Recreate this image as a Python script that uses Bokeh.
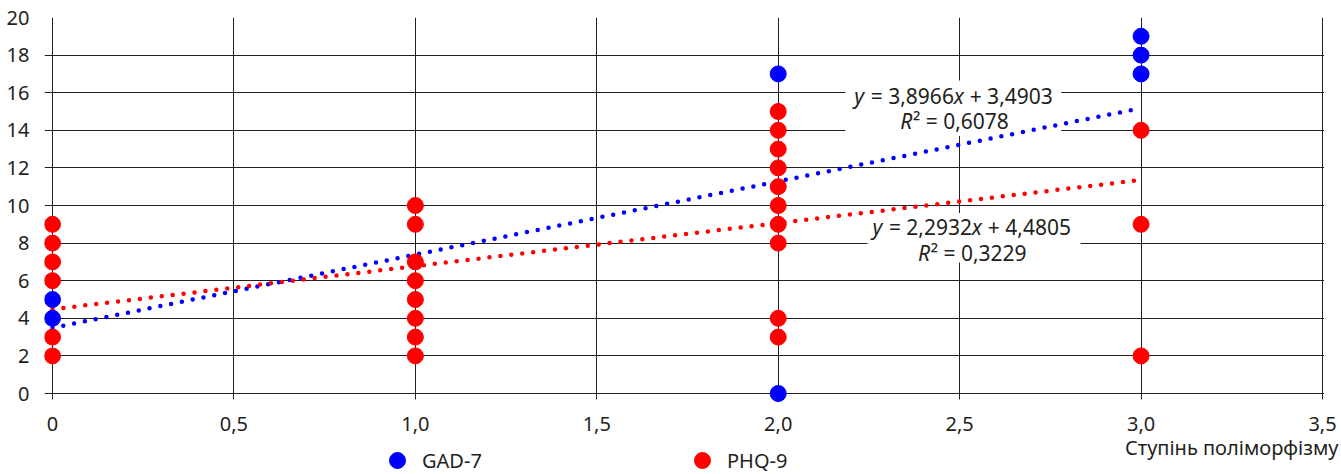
from bokeh.plotting import figure
from bokeh.models import (Range1d, FixedTicker, Label, BoxAnnotation, Legend, LegendItem)
from bokeh.core.properties import value
from bokeh.embed import file_html
from bokeh.resources import INLINE

# ---- data ----
gad_x = [0, 0, 2, 2, 3, 3, 3]
gad_y = [4, 5, 17, 0, 17, 18, 19]
phq_x = [0, 0, 0, 0, 0, 0,
         1, 1, 1, 1, 1, 1, 1, 1,
         2, 2, 2, 2, 2, 2, 2, 2, 2, 2,
         3, 3, 3]
phq_y = [2, 3, 6, 7, 8, 9,
         2, 3, 4, 5, 6, 7, 9, 10,
         15, 14, 13, 12, 11, 10, 9, 8, 4, 3,
         14, 9, 2]
gad_trend = (3.8966, 3.4903)   # slope, intercept
phq_trend = (2.2932, 4.4805)
gad_r2 = "0,6078"
phq_r2 = "0,3229"
trend_x = [0, 3]
x_ticks = [0, 0.5, 1, 1.5, 2, 2.5, 3, 3.5]
x_tick_labels = ["0", "0,5", "1,0", "1,5", "2,0", "2,5", "3,0", "3,5"]
y_ticks = list(range(0, 21, 2))
x_title = "Ступінь поліморфізму"

FONT = "Noto Sans"
TXT = "#231f20"
GRID = "#231f20"

W, H = 1341, 474
XS, YS = 362.857, 18.8            # px per unit
x0 = -8 / XS
x1 = x0 + (W - 44) / XS
y0 = -(H - 393) / YS

p = figure(width=W, height=H, output_backend="svg", toolbar_location=None,
           x_range=Range1d(x0, x1), y_range=Range1d(y0, 20),
           min_border_left=44, min_border_right=0, min_border_top=17, min_border_bottom=0)
p.outline_line_color = None
p.background_fill_color = "white"
p.xaxis.visible = False

ya = p.yaxis[0]
ya.ticker = FixedTicker(ticks=y_ticks)
ya.axis_line_color = None
ya.major_tick_line_color = None
ya.minor_tick_line_color = None
ya.major_label_standoff = 9
ya.major_label_text_font = FONT
ya.major_label_text_font_size = "20px"
ya.major_label_text_color = TXT

p.xgrid.ticker = FixedTicker(ticks=x_ticks)
p.ygrid.ticker = FixedTicker(ticks=y_ticks)
for g in (p.xgrid[0], p.ygrid[0]):
    g.grid_line_color = GRID
    g.grid_line_width = 1

# white areas hiding the grid outside the plotting area (ticks remain as 6px stubs)
p.add_layout(BoxAnnotation(left=x0, right=x1, top=-6 / YS, bottom=y0,
                           fill_color="white", fill_alpha=1, line_color=None, level="underlay"))
p.add_layout(BoxAnnotation(left=3.5 + 1.5 / XS, right=x1, top=20, bottom=y0,
                           fill_color="white", fill_alpha=1, line_color=None, level="underlay"))
# white boxes behind equation labels (hide grid only)
p.add_layout(BoxAnnotation(left=2.185, right=2.78, top=16.65, bottom=13.7,
                           fill_color="white", fill_alpha=1, line_color=None, level="underlay"))
p.add_layout(BoxAnnotation(left=2.246, right=2.833, top=9.6, bottom=6.97,
                           fill_color="white", fill_alpha=1, line_color=None, level="underlay"))

# x tick labels
p.text(x=x_ticks, y=[-30 / YS] * len(x_ticks), text=x_tick_labels, text_align="center",
       text_baseline="middle", text_font=value(FONT), text_font_size="20px", text_color=TXT)

# trend lines
for (k, b), col in ((gad_trend, "#0000ff"), (phq_trend, "#ff0000")):
    p.line(trend_x, [k * x + b for x in trend_x], line_color=col, line_width=4.5,
           line_dash="0 11", line_cap="round")

r_phq = p.scatter(phq_x, phq_y, size=16, fill_color="#ff0000", line_color="#ff0000")
r_gad = p.scatter(gad_x, gad_y, size=16, fill_color="#0000ff", line_color="#0000ff")

def num(v):
    return str(v).replace(".", ",")

# approximate advance widths (em) of Noto Sans, for composing mixed italic/upright text
ADV = {" ": 0.26, ",": 0.258, "=": 0.572, "+": 0.572, "²": 0.36, "x": 0.50, "y": 0.52, "R": 0.60}
FS = 21

def em(s):
    return sum(ADV.get(c, 0.572) for c in s)

def rich(xc, yc, pieces):
    # pieces: (text, italic); spaces are turned into offsets, texts drawn without them
    total = sum(em(t) for t, _ in pieces) * FS
    off = -total / 2
    for t, ital in pieces:
        lead = len(t) - len(t.lstrip(" "))
        body = t.strip(" ")
        start = off + em(" " * lead) * FS
        p.add_layout(Label(x=xc, y=yc, x_offset=start, text=body, text_align="left",
                           text_baseline="middle", text_font=FONT, text_font_size="%dpx" % FS,
                           text_font_style="italic" if ital else "normal", text_color=TXT))
        off += em(t) * FS

rich(2.483, 15.85, [("y", True), (" = %s" % num(gad_trend[0]), False), ("x", True),
                    (" + %s" % num(gad_trend[1]), False)])
rich(2.486, 14.52, [("R", True), ("² = " + gad_r2, False)])
rich(2.533, 8.88, [("y", True), (" = %s" % num(phq_trend[0]), False), ("x", True),
                   (" + %s" % num(phq_trend[1]), False)])
rich(2.535, 7.5, [("R", True), ("² = " + phq_r2, False)])

# axis title at bottom right
p.add_layout(Label(x=(1338 - 52) / XS, y=-(447 - 393) / YS, text=x_title, text_align="right",
                   text_baseline="middle", text_font=FONT, text_font_size="20px", text_color=TXT))

for r, name, lx in ((r_gad, "GAD-7", 333), (r_phq, "PHQ-9", 638)):
    lg = Legend(items=[LegendItem(label=name, renderers=[r])], location=(lx, -6),
                orientation="horizontal", padding=0, margin=0, border_line_color=None,
                background_fill_alpha=0, glyph_width=40, glyph_height=40, label_standoff=5,
                label_height=20, label_text_font=FONT, label_text_font_size="20px",
                label_text_color=TXT)
    p.add_layout(lg, "center")

open("out.html", "w").write(file_html(p, INLINE))
